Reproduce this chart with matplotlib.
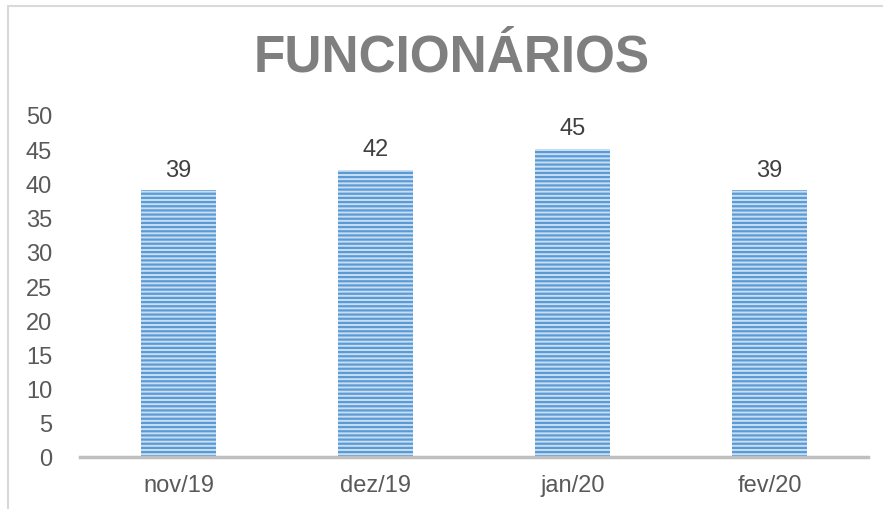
import matplotlib
matplotlib.use("Agg")
import matplotlib.pyplot as plt
from matplotlib.patches import Rectangle

categories = ["nov/19", "dez/19", "jan/20", "fev/20"]
values = [39, 42, 45, 39]
yticks = [0, 5, 10, 15, 20, 25, 30, 35, 40, 45, 50]
title = "FUNCIONÁRIOS"

plt.rcParams['font.family'] = ['Liberation Sans', 'DejaVu Sans']
plt.rcParams['hatch.linewidth'] = 1.6

W, H = 883, 510
fig = plt.figure(figsize=(W / 100, H / 100), dpi=100)

# outer chart frame (top and left edges visible)
fig.patches.append(Rectangle((8 / W, -0.1), 1.2, (510 - 7) / H + 0.1,
                             transform=fig.transFigure, fill=False,
                             edgecolor='#d9d9d9', linewidth=1.5))

ax = fig.add_axes([80 / W, (H - 458) / H, (868 - 80) / W, (458 - 116) / H])
x = list(range(len(categories)))
bars = ax.bar(x, values, width=0.38, color='#c9def2', edgecolor='#5b9bd5',
              linewidth=0, hatch='----')

for xi, v in zip(x, values):
    ax.annotate(str(v), (xi, v), xytext=(0, 7), textcoords='offset points',
                ha='center', va='bottom', fontsize=17, color='#404040')

ax.set_xlim(-0.5, len(categories) - 0.5)
ax.set_ylim(0, 50)
ax.set_yticks(yticks)
ax.set_yticklabels([str(t) for t in yticks])
ax.set_xticks(x)
ax.set_xticklabels(categories)
ax.tick_params(axis='both', length=0, labelsize=17, labelcolor='#595959')
ax.tick_params(axis='y', pad=20)
ax.tick_params(axis='x', pad=12)
for s in ['top', 'right', 'left']:
    ax.spines[s].set_visible(False)
ax.spines['bottom'].set_color('#bfbfbf')
ax.spines['bottom'].set_linewidth(2.5)

fig.text(452 / W, (H - 58) / H, title, ha='center', va='center',
         fontsize=37, fontweight='bold', color='#7f7f7f')

fig.savefig('out.png', dpi=100)
